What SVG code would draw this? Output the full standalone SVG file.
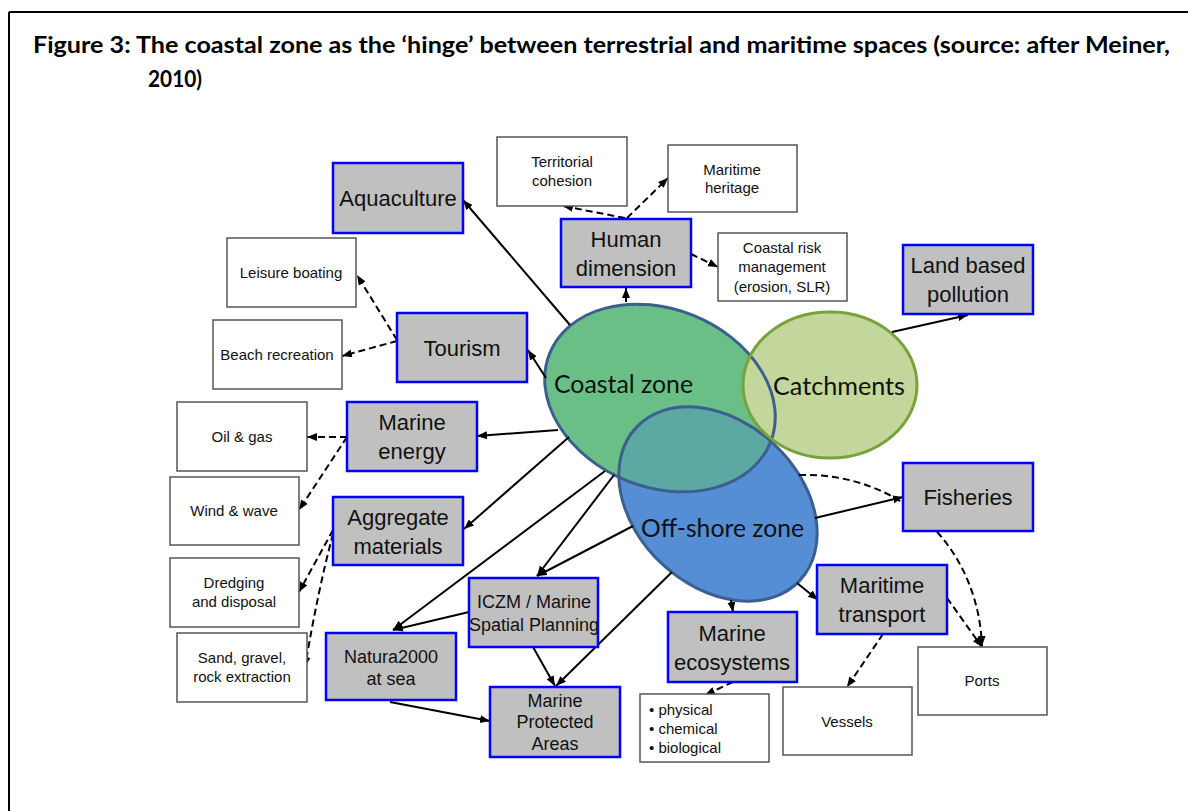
<svg xmlns="http://www.w3.org/2000/svg" width="1188" height="811" viewBox="0 0 1188 811">
<style>
.g{fill:#c0c0c0;stroke:#0000ff;stroke-width:2.5}
.w{fill:#fff;stroke:#555;stroke-width:1.5}
.tl{font-family:"Liberation Sans",Arial,sans-serif;font-size:22px;fill:#111;text-anchor:middle}
.tm{font-family:"Liberation Sans",Arial,sans-serif;font-size:18px;fill:#111;text-anchor:middle}
.ts{font-family:"Liberation Sans",Arial,sans-serif;font-size:15px;fill:#111;text-anchor:middle}
.te{font-family:Lato,"Open Sans",sans-serif;font-size:25px;fill:#111}
.title{font-family:Lato,"Liberation Sans",sans-serif;font-weight:bold;font-size:22px;fill:#000}
.c{fill:none;stroke:#000;stroke-width:2;marker-end:url(#ah)}
.d{fill:none;stroke:#000;stroke-width:2;stroke-dasharray:7 4;marker-end:url(#ah)}
</style>
<defs>
<marker id="ah" viewBox="0 0 10 10" refX="10" refY="5" markerWidth="10" markerHeight="10" markerUnits="userSpaceOnUse" orient="auto"><path d="M0,1 L10,5 L0,9 z" fill="#000"/></marker>
<clipPath id="offclip"><ellipse cx="718" cy="504" rx="112" ry="82" transform="rotate(43 718 504)"/></clipPath>
</defs>
<rect x="0" y="0" width="1188" height="811" fill="#fff"/>
<g id="frame"><path d="M9,12 H1188 M9,12 V811" stroke="#000" stroke-width="2" fill="none"/></g>
<g id="title">
<text class="title" x="33" y="53" textLength="1137" lengthAdjust="spacingAndGlyphs">Figure 3: The coastal zone as the ‘hinge’ between terrestrial and maritime spaces (source: after Meiner,</text>
<text class="title" x="148" y="87" textLength="54" lengthAdjust="spacingAndGlyphs">2010)</text>
</g>
<g id="zones">
<ellipse cx="660" cy="398" rx="119" ry="89" transform="rotate(22 660 398)" fill="#6abf86"/>
<ellipse cx="718" cy="504" rx="112" ry="82" transform="rotate(43 718 504)" fill="#558ed5"/>
<g clip-path="url(#offclip)"><ellipse cx="660" cy="398" rx="119" ry="89" transform="rotate(22 660 398)" fill="#5ca8a2"/></g>
<ellipse cx="830" cy="385" rx="87" ry="73" fill="#c3d69b"/>
<ellipse cx="718" cy="504" rx="112" ry="82" transform="rotate(43 718 504)" fill="none" stroke="#3b5f8e" stroke-width="3"/>
<ellipse cx="660" cy="398" rx="119" ry="89" transform="rotate(22 660 398)" fill="none" stroke="#3b5f8e" stroke-width="3"/>
<ellipse cx="830" cy="385" rx="87" ry="73" fill="none" stroke="#77a33a" stroke-width="3"/>
<text class="te" x="554" y="393" textLength="139" lengthAdjust="spacingAndGlyphs">Coastal zone</text>
<text class="te" x="773" y="395" textLength="132" lengthAdjust="spacingAndGlyphs">Catchments</text>
<text class="te" x="641" y="537" textLength="163" lengthAdjust="spacingAndGlyphs">Off-shore zone</text>
</g>
<g id="connectors">
<path class="c" d="M570,325 L463,200"/>
<path class="c" d="M546,378 L528,350"/>
<path class="c" d="M626,302 L626,288"/>
<path class="c" d="M892,332 L968,315"/>
<path class="c" d="M558,430 L477,436"/>
<path class="c" d="M569,437 L464,529"/>
<path class="c" d="M605,471 L393,630"/>
<path class="c" d="M614,475 L537,576"/>
<path class="c" d="M633,526 L537,576"/>
<path class="c" d="M469,612 L393,630"/>
<path class="c" d="M533,647 L555,686"/>
<path class="c" d="M672,572 L556,686"/>
<path class="c" d="M390,702 L490,721"/>
<path class="c" d="M731,600 L733,612"/>
<path class="c" d="M797,583 L818,600"/>
<path class="c" d="M815,518 L903,497"/>
<path class="d" d="M625,218 L563,206"/>
<path class="d" d="M627,218 L668,178"/>
<path class="d" d="M691,254 L718,267"/>
<path class="d" d="M397,341 L342,356"/>
<path class="d" d="M397,340 L357,275"/>
<path class="d" d="M347,437 L307,437"/>
<path class="d" d="M347,437 L299,510"/>
<path class="d" d="M333,530 L299,592"/>
<path class="d" d="M333,534 Q318,590 305,667"/>
<path class="d" d="M733,682 L705,695"/>
<path class="d" d="M883,634 L847,687"/>
<path class="d" d="M947,598 L982,647"/>
<path class="d" d="M799,475 C900,472 978,545 982,646"/>
</g>
<g id="aquaculture"><rect class="g" x="333" y="163" width="130" height="70"/><text class="tl" x="398" y="206">Aquaculture</text></g>
<g id="human-dimension"><rect class="g" x="561" y="219" width="130" height="68"/><text class="tl" x="626" y="247">Human</text><text class="tl" x="626" y="276">dimension</text></g>
<g id="land-based-pollution"><rect class="g" x="903" y="245" width="130" height="69"/><text class="tl" x="968" y="273">Land based</text><text class="tl" x="968" y="302">pollution</text></g>
<g id="tourism"><rect class="g" x="397" y="313" width="130" height="69"/><text class="tl" x="462" y="356">Tourism</text></g>
<g id="marine-energy"><rect class="g" x="347" y="402" width="130" height="69"/><text class="tl" x="412" y="430">Marine</text><text class="tl" x="412" y="459">energy</text></g>
<g id="aggregate-materials"><rect class="g" x="333" y="497" width="130" height="68"/><text class="tl" x="398" y="525">Aggregate</text><text class="tl" x="398" y="554">materials</text></g>
<g id="fisheries"><rect class="g" x="903" y="463" width="130" height="68"/><text class="tl" x="968" y="505">Fisheries</text></g>
<g id="iczm"><rect class="g" x="469" y="578" width="129" height="69"/><text class="tm" x="534" y="608">ICZM / Marine</text><text class="tm" x="534" y="631">Spatial Planning</text></g>
<g id="natura2000"><rect class="g" x="326" y="633" width="130" height="67"/><text class="tm" x="391" y="663">Natura2000</text><text class="tm" x="391" y="685">at sea</text></g>
<g id="marine-protected-areas"><rect class="g" x="490" y="687" width="130" height="70"/><text class="tm" x="555" y="707">Marine</text><text class="tm" x="555" y="728">Protected</text><text class="tm" x="555" y="750">Areas</text></g>
<g id="marine-ecosystems"><rect class="g" x="668" y="612" width="129" height="70"/><text class="tl" x="732" y="641">Marine</text><text class="tl" x="732" y="670">ecosystems</text></g>
<g id="maritime-transport"><rect class="g" x="817" y="565" width="130" height="69"/><text class="tl" x="882" y="593">Maritime</text><text class="tl" x="882" y="622">transport</text></g>
<g id="territorial-cohesion"><rect class="w" x="497" y="137" width="130" height="69"/><text class="ts" x="562" y="167">Territorial</text><text class="ts" x="562" y="186">cohesion</text></g>
<g id="maritime-heritage"><rect class="w" x="668" y="145" width="129" height="67"/><text class="ts" x="732" y="175">Maritime</text><text class="ts" x="732" y="193">heritage</text></g>
<g id="coastal-risk"><rect class="w" x="718" y="233" width="129" height="68"/><text class="ts" x="782" y="253">Coastal risk</text><text class="ts" x="782" y="272">management</text><text class="ts" x="782" y="292">(erosion, SLR)</text></g>
<g id="leisure-boating"><rect class="w" x="227" y="238" width="129" height="69"/><text class="ts" x="291" y="278">Leisure boating</text></g>
<g id="beach-recreation"><rect class="w" x="213" y="320" width="129" height="69"/><text class="ts" x="277" y="360">Beach recreation</text></g>
<g id="oil-gas"><rect class="w" x="177" y="402" width="130" height="69"/><text class="ts" x="242" y="442">Oil &amp; gas</text></g>
<g id="wind-wave"><rect class="w" x="170" y="477" width="129" height="68"/><text class="ts" x="234" y="516">Wind &amp; wave</text></g>
<g id="dredging"><rect class="w" x="170" y="558" width="129" height="69"/><text class="ts" x="234" y="588">Dredging</text><text class="ts" x="234" y="607">and disposal</text></g>
<g id="sand-gravel"><rect class="w" x="177" y="633" width="130" height="69"/><text class="ts" x="242" y="663">Sand, gravel,</text><text class="ts" x="242" y="682">rock extraction</text></g>
<g id="physical-chemical-biological"><rect class="w" x="640" y="694" width="129" height="68"/><text class="ts" x="649" y="715" style="text-anchor:start">• physical</text><text class="ts" x="649" y="734" style="text-anchor:start">• chemical</text><text class="ts" x="649" y="753" style="text-anchor:start">• biological</text></g>
<g id="vessels"><rect class="w" x="783" y="687" width="129" height="68"/><text class="ts" x="847" y="727">Vessels</text></g>
<g id="ports"><rect class="w" x="918" y="647" width="129" height="68"/><text class="ts" x="982" y="686">Ports</text></g>
</svg>
